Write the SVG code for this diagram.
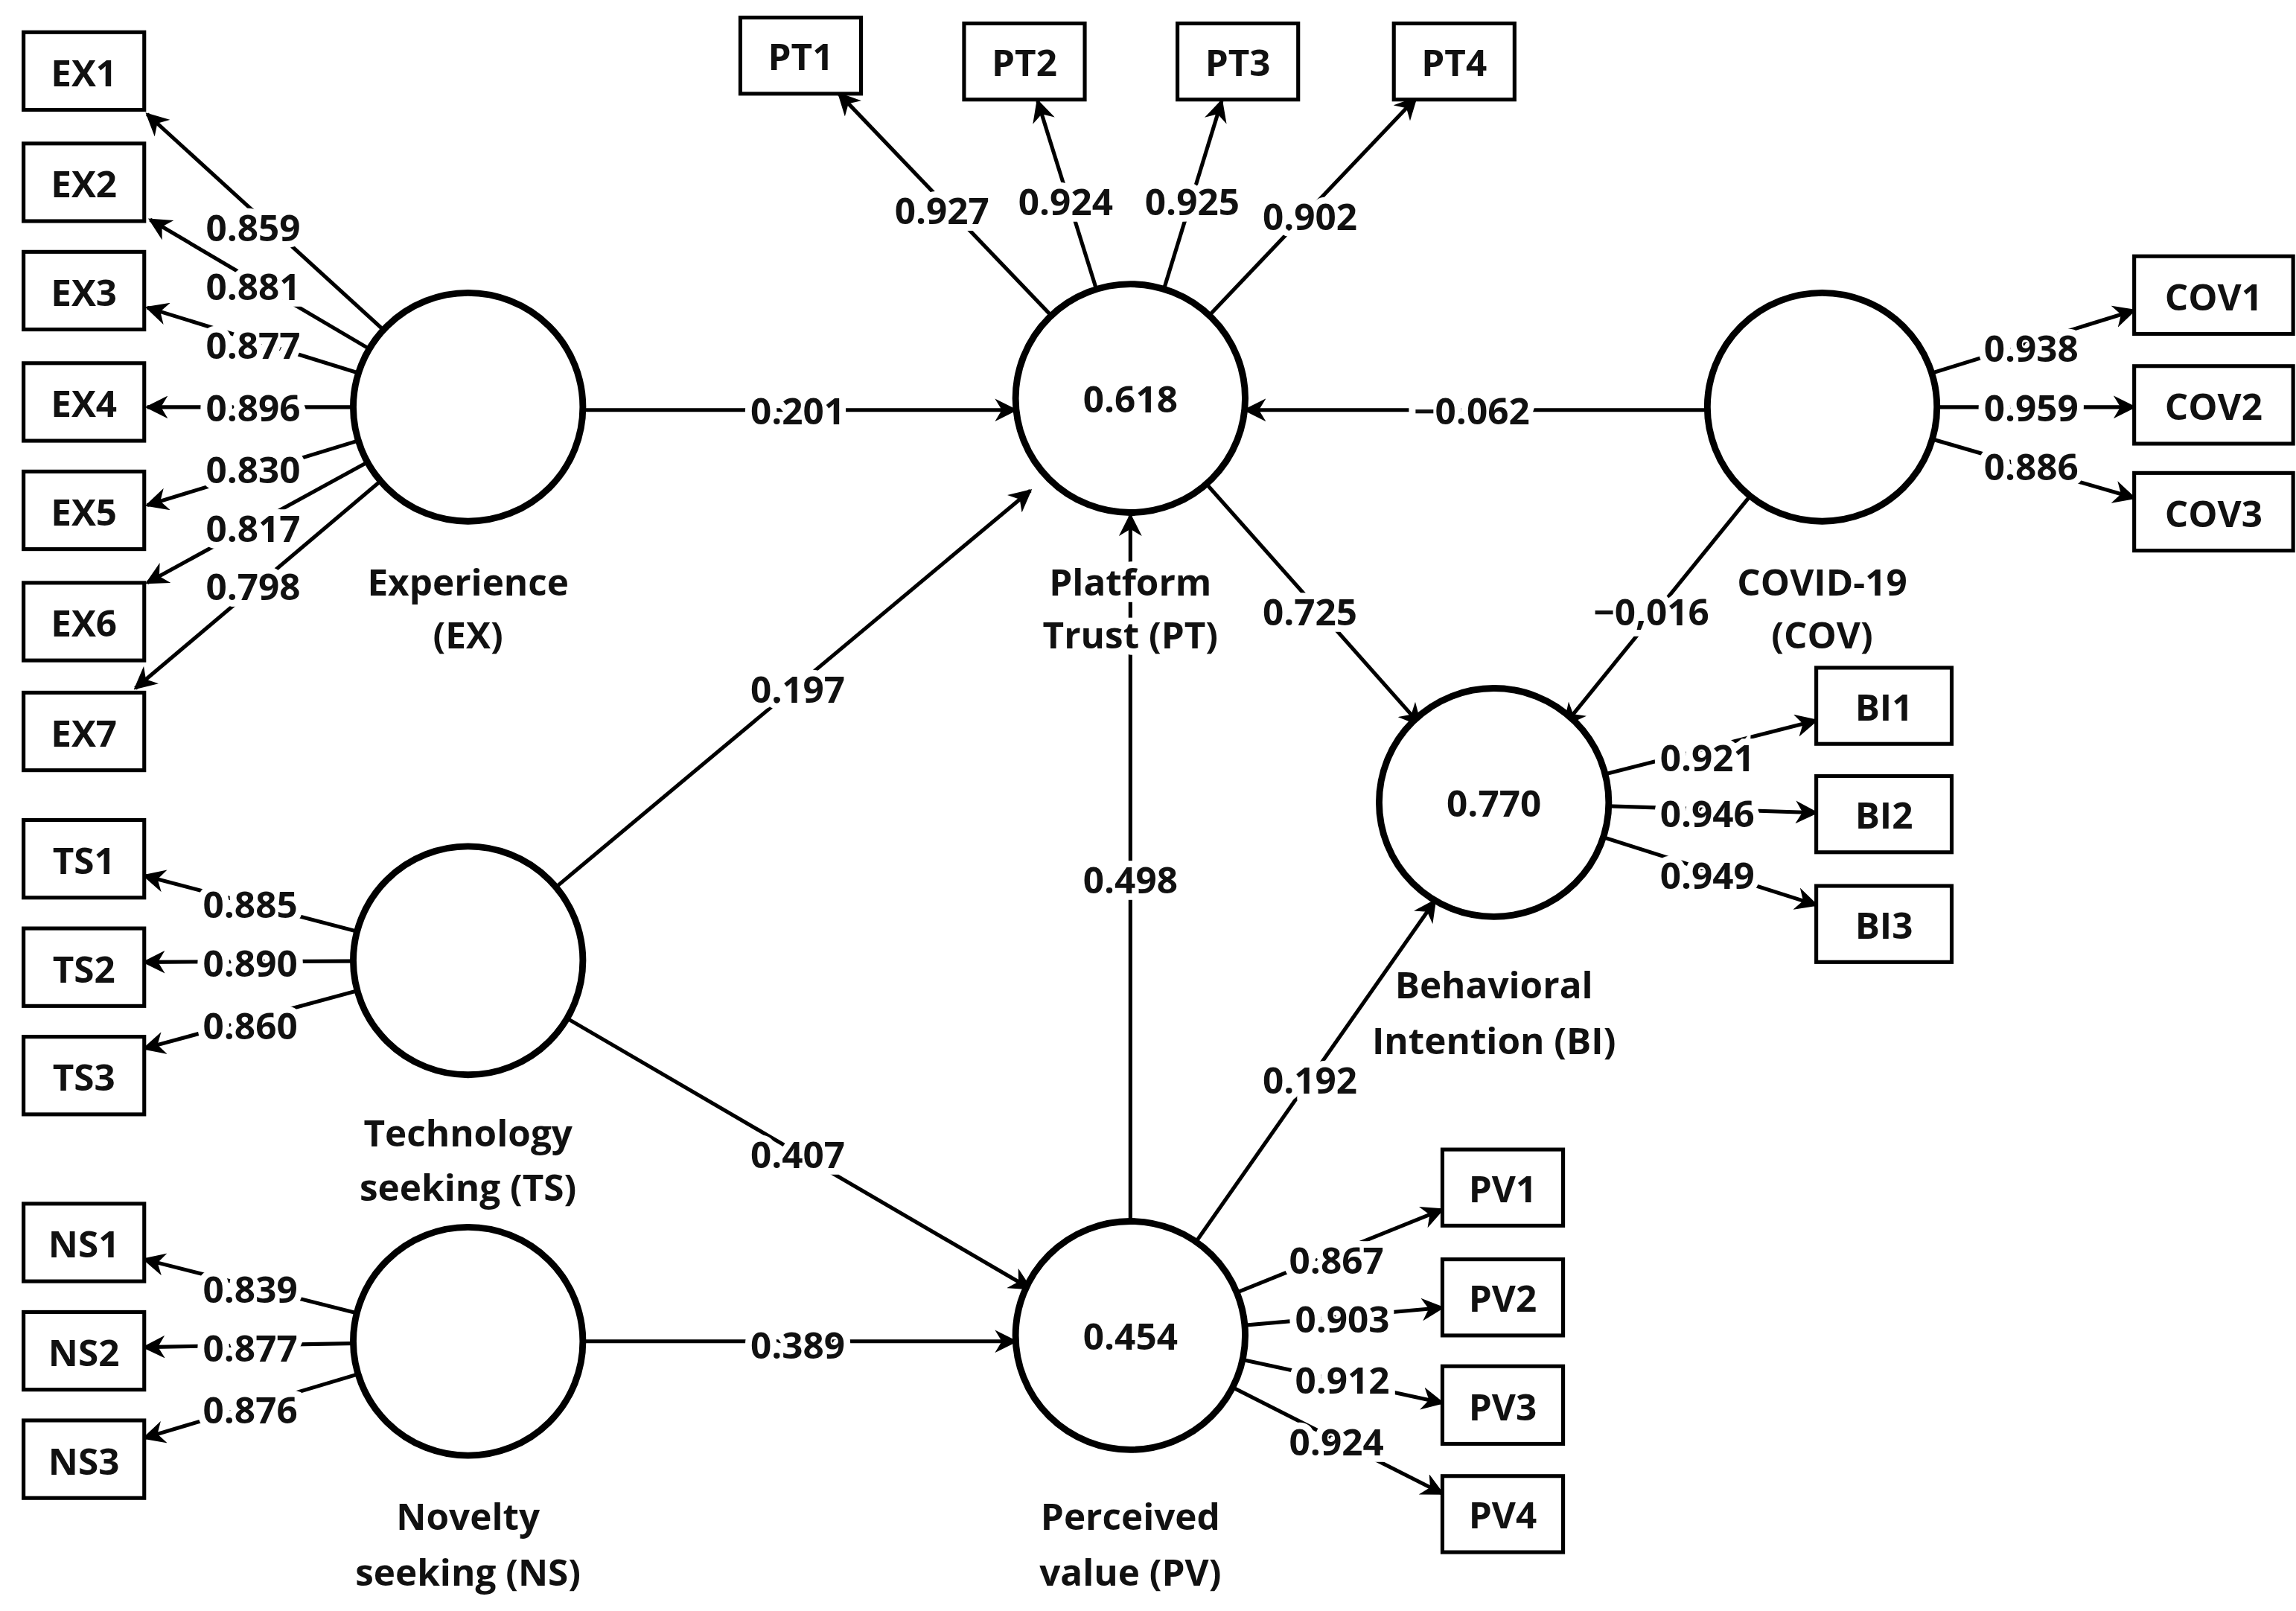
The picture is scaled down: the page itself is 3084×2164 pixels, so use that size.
<svg xmlns="http://www.w3.org/2000/svg" width="3084" height="2164" viewBox="0 0 3084 2164">
<defs>
<marker id="ah" viewBox="0 0 10 10" refX="9" refY="5" markerWidth="6" markerHeight="6" markerUnits="strokeWidth" orient="auto"><path d="M0,0 L10,5 L0,10 L3,5 z" fill="#000"/></marker>
<style>
line{stroke:#000;stroke-width:2.6;marker-end:url(#ah)}
.c{fill:#fff;stroke:#000;stroke-width:4.5}
.b{fill:#fff;stroke:#000;stroke-width:2.6}
text{font-family:"Open Sans","DejaVu Sans",sans-serif;font-weight:bold;font-size:25px;text-anchor:middle;dominant-baseline:central;fill:#111}
.l{stroke:#fff;stroke-width:9;paint-order:stroke}
</style>
</defs>
<rect width="3084" height="2164" fill="#fff"/>
<g transform="scale(1.977 1.967)">
<g id="connectors">
<line x1="318" y1="278" x2="100" y2="78"/>
<line x1="318" y1="278" x2="102" y2="150"/>
<line x1="318" y1="278" x2="100" y2="210"/>
<line x1="318" y1="278" x2="100" y2="278"/>
<line x1="318" y1="278" x2="100" y2="345"/>
<line x1="318" y1="278" x2="100" y2="398"/>
<line x1="318" y1="278" x2="92" y2="470"/>
<line x1="768" y1="272" x2="570" y2="64"/>
<line x1="768" y1="272" x2="705" y2="69"/>
<line x1="768" y1="272" x2="830" y2="69"/>
<line x1="768" y1="272" x2="962" y2="67"/>
<line x1="1238" y1="278" x2="1450" y2="212"/>
<line x1="1238" y1="278" x2="1450" y2="278"/>
<line x1="1238" y1="278" x2="1450" y2="340"/>
<line x1="1015" y1="548" x2="1234" y2="492"/>
<line x1="1015" y1="548" x2="1234" y2="555"/>
<line x1="1015" y1="548" x2="1234" y2="618"/>
<line x1="768" y1="912" x2="980" y2="826"/>
<line x1="768" y1="912" x2="980" y2="893"/>
<line x1="768" y1="912" x2="980" y2="958"/>
<line x1="768" y1="912" x2="980" y2="1020"/>
<line x1="318" y1="656" x2="98" y2="598"/>
<line x1="318" y1="656" x2="98" y2="657"/>
<line x1="318" y1="656" x2="98" y2="716"/>
<line x1="318" y1="916" x2="98" y2="860"/>
<line x1="318" y1="916" x2="98" y2="920"/>
<line x1="318" y1="916" x2="98" y2="982"/>
<line x1="318" y1="280" x2="690" y2="280"/>
<line x1="1238" y1="280" x2="846" y2="280"/>
<line x1="318" y1="656" x2="700" y2="335"/>
<line x1="768" y1="912" x2="768" y2="352"/>
<line x1="768" y1="272" x2="965" y2="495"/>
<line x1="1238" y1="278" x2="1063" y2="495"/>
<line x1="318" y1="656" x2="700" y2="880"/>
<line x1="318" y1="916" x2="690" y2="916"/>
<line x1="768" y1="912" x2="975" y2="615"/>
<g class="lbls">
<text class="l" x="172" y="155">0.859</text>
<text class="l" x="172" y="195">0.881</text>
<text class="l" x="172" y="235">0.877</text>
<text class="l" x="172" y="278">0.896</text>
<text class="l" x="172" y="320">0.830</text>
<text class="l" x="172" y="360">0.817</text>
<text class="l" x="172" y="400">0.798</text>
<text class="l" x="640" y="143">0.927</text>
<text class="l" x="724" y="137">0.924</text>
<text class="l" x="810" y="137">0.925</text>
<text class="l" x="890" y="147">0.902</text>
<text class="l" x="1380" y="237">0.938</text>
<text class="l" x="1380" y="278">0.959</text>
<text class="l" x="1380" y="318">0.886</text>
<text class="l" x="1160" y="517">0.921</text>
<text class="l" x="1160" y="555">0.946</text>
<text class="l" x="1160" y="597">0.949</text>
<text class="l" x="908" y="860">0.867</text>
<text class="l" x="912" y="900">0.903</text>
<text class="l" x="912" y="942">0.912</text>
<text class="l" x="908" y="984">0.924</text>
<text class="l" x="170" y="617">0.885</text>
<text class="l" x="170" y="657">0.890</text>
<text class="l" x="170" y="700">0.860</text>
<text class="l" x="170" y="880">0.839</text>
<text class="l" x="170" y="920">0.877</text>
<text class="l" x="170" y="962">0.876</text>
<text class="l" x="542" y="280">0.201</text>
<text class="l" x="1000" y="280">−0.062</text>
<text class="l" x="542" y="470">0.197</text>
<text class="l" x="768" y="600">0.498</text>
<text class="l" x="890" y="417">0.725</text>
<text class="l" x="1122" y="417">−0,016</text>
<text class="l" x="542" y="788">0.407</text>
<text class="l" x="542" y="918">0.389</text>
<text class="l" x="890" y="737">0.192</text>
</g>
</g>
<g id="EX"><circle class="c" cx="318" cy="278" r="78"/><text x="318" y="397">Experience</text><text x="318" y="433">(EX)</text></g>
<g id="PT"><circle class="c" cx="768" cy="272" r="78"/><text x="768" y="272">0.618</text><text class="l" x="768" y="397">Platform</text><text class="l" x="768" y="433">Trust (PT)</text></g>
<g id="COV"><circle class="c" cx="1238" cy="278" r="78"/><text x="1238" y="397">COVID-19</text><text x="1238" y="433">(COV)</text></g>
<g id="BI"><circle class="c" cx="1015" cy="548" r="78"/><text x="1015" y="548">0.770</text><text x="1015" y="672">Behavioral</text><text x="1015" y="710">Intention (BI)</text></g>
<g id="TS"><circle class="c" cx="318" cy="656" r="78"/><text x="318" y="773">Technology</text><text x="318" y="810">seeking (TS)</text></g>
<g id="NS"><circle class="c" cx="318" cy="916" r="78"/><text x="318" y="1035">Novelty</text><text x="318" y="1073">seeking (NS)</text></g>
<g id="PV"><circle class="c" cx="768" cy="912" r="78"/><text x="768" y="912">0.454</text><text x="768" y="1035">Perceived</text><text x="768" y="1073">value (PV)</text></g>
<g id="EX1"><rect class="b" x="16" y="22" width="82" height="53"/><text x="57" y="49">EX1</text></g>
<g id="EX2"><rect class="b" x="16" y="98" width="82" height="53"/><text x="57" y="125">EX2</text></g>
<g id="EX3"><rect class="b" x="16" y="172" width="82" height="53"/><text x="57" y="199">EX3</text></g>
<g id="EX4"><rect class="b" x="16" y="248" width="82" height="53"/><text x="57" y="275">EX4</text></g>
<g id="EX5"><rect class="b" x="16" y="322" width="82" height="53"/><text x="57" y="349">EX5</text></g>
<g id="EX6"><rect class="b" x="16" y="398" width="82" height="53"/><text x="57" y="425">EX6</text></g>
<g id="EX7"><rect class="b" x="16" y="473" width="82" height="53"/><text x="57" y="500">EX7</text></g>
<g id="TS1"><rect class="b" x="16" y="560" width="82" height="53"/><text x="57" y="587">TS1</text></g>
<g id="TS2"><rect class="b" x="16" y="634" width="82" height="53"/><text x="57" y="661">TS2</text></g>
<g id="TS3"><rect class="b" x="16" y="708" width="82" height="53"/><text x="57" y="735">TS3</text></g>
<g id="NS1"><rect class="b" x="16" y="822" width="82" height="53"/><text x="57" y="849">NS1</text></g>
<g id="NS2"><rect class="b" x="16" y="896" width="82" height="53"/><text x="57" y="923">NS2</text></g>
<g id="NS3"><rect class="b" x="16" y="970" width="82" height="53"/><text x="57" y="997">NS3</text></g>
<g id="PT1"><rect class="b" x="503" y="12" width="82" height="52"/><text x="544" y="38">PT1</text></g>
<g id="PT2"><rect class="b" x="655" y="16" width="82" height="52"/><text x="696" y="42">PT2</text></g>
<g id="PT3"><rect class="b" x="800" y="16" width="82" height="52"/><text x="841" y="42">PT3</text></g>
<g id="PT4"><rect class="b" x="947" y="16" width="82" height="52"/><text x="988" y="42">PT4</text></g>
<g id="COV1"><rect class="b" x="1450" y="175" width="108" height="53"/><text x="1504" y="202">COV1</text></g>
<g id="COV2"><rect class="b" x="1450" y="250" width="108" height="53"/><text x="1504" y="277">COV2</text></g>
<g id="COV3"><rect class="b" x="1450" y="323" width="108" height="53"/><text x="1504" y="350">COV3</text></g>
<g id="BI1"><rect class="b" x="1234" y="456" width="92" height="52"/><text x="1280" y="482">BI1</text></g>
<g id="BI2"><rect class="b" x="1234" y="530" width="92" height="52"/><text x="1280" y="556">BI2</text></g>
<g id="BI3"><rect class="b" x="1234" y="605" width="92" height="52"/><text x="1280" y="631">BI3</text></g>
<g id="PV1"><rect class="b" x="980" y="785" width="82" height="52"/><text x="1021" y="811">PV1</text></g>
<g id="PV2"><rect class="b" x="980" y="860" width="82" height="52"/><text x="1021" y="886">PV2</text></g>
<g id="PV3"><rect class="b" x="980" y="933" width="82" height="53"/><text x="1021" y="960">PV3</text></g>
<g id="PV4"><rect class="b" x="980" y="1008" width="82" height="52"/><text x="1021" y="1034">PV4</text></g>
</g>
</svg>
